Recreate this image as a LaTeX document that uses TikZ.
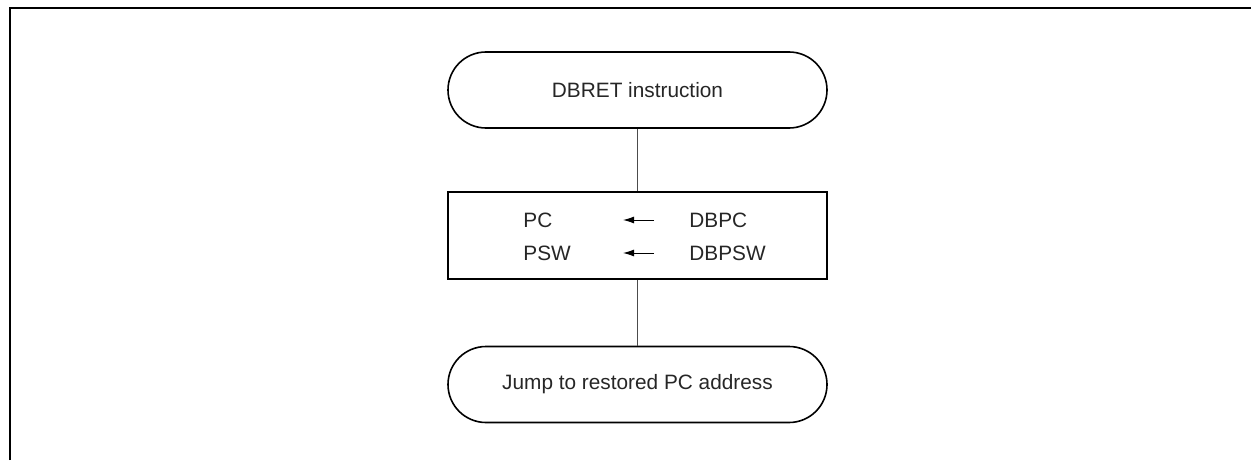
\documentclass[tikz,border=0pt]{standalone}
\usepackage{fontspec}
\setmainfont{Liberation Sans}
\usetikzlibrary{arrows.meta}

\begin{document}
\begin{tikzpicture}[x=0.5pt, y=-0.5pt,
    every node/.style={font=\fontsize{10.4}{12.5}\selectfont, text=black!85},
    terminal/.style={draw, line width=0.8pt, rounded corners=19pt,
        minimum width=189.5pt, minimum height=38pt, inner sep=0pt},
    process/.style={draw, line width=0.8pt,
        minimum width=189.5pt, minimum height=43.5pt, inner sep=0pt},
    flow/.style={black!70, line width=0.5pt}]
    \useasboundingbox (0,0) rectangle (1251,460);
    % frame
    \draw[line width=1pt] (10,460) -- (10,8) -- (1251,8);

    \node[terminal] (start) at (637.5, 90) {DBRET instruction};
    \node[process] (restore) at (637.5, 235.5) {};
    \node[terminal] (jump) at (637.5, 384.5) {Jump to restored PC address};

    \node[anchor=west, inner sep=0pt] (pc) at (523, 220) {PC};
    \node[anchor=west, inner sep=0pt] (psw) at (523, 253) {PSW};
    \node[anchor=west, inner sep=0pt] (dbpc) at (689, 220) {DBPC};
    \node[anchor=west, inner sep=0pt] (dbpsw) at (689, 253) {DBPSW};
    \foreach \y/\n in {220/1, 253/2} {
        \coordinate (a\n) at (623, \y);
        \coordinate (b\n) at (654, \y);
        \draw[-{Latex[length=5.5pt, width=3.5pt]}, line width=0.5pt] (b\n) -- (a\n);
    }

    \draw[flow] (start) -- (restore);
    \draw[flow] (restore) -- (jump);
\end{tikzpicture}
\end{document}
